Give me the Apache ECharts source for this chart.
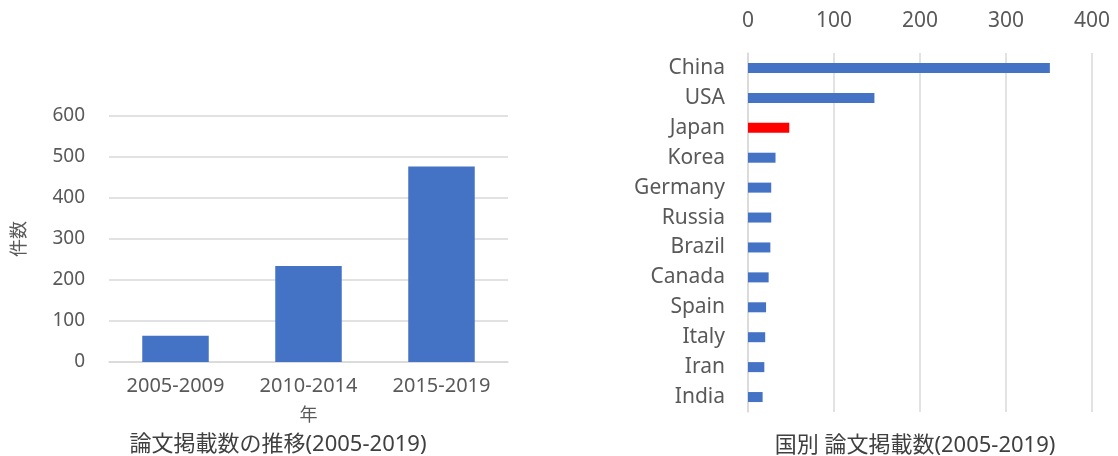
<!DOCTYPE html>
<html>
<head>
<meta charset="utf-8">
<script src="https://cdn.jsdelivr.net/npm/echarts@6/dist/echarts.min.js"></script>
<style>
  html, body { margin: 0; padding: 0; background: #fff; }
  #chart { width: 1118px; height: 456px; }
</style>
</head>
<body>
<div id="chart"></div>
<script>
// 期間別の論文数
const periods = ['2005-2009', '2010-2014', '2015-2019']
const periodCounts = [64, 234, 477]

// 国別の論文数
const countries = ['China', 'USA', 'Japan', 'Korea', 'Germany', 'Russia', 'Brazil', 'Canada', 'Spain', 'Italy', 'Iran', 'India']
const countryCounts = [351, 147, 48, 32, 27, 27, 26, 24, 21, 20, 19, 17]
const highlight = 'Japan'

const font = "'Noto Sans', 'Noto Sans CJK JP', sans-serif"
const textColor = '#595959'
const lineColor = '#d9d9d9'
const blue = '#4472c4'

const chart = echarts.init(document.getElementById('chart'))

const option = {
  animation: false,
  textStyle: { fontFamily: font },
  title: [
    {
      text: '論文掲載数の推移(2005-2019)',
      left: 273,
      top: 429,
      textAlign: 'center',
      textStyle: { fontSize: 22, fontWeight: 'normal', color: '#404040', fontFamily: font }
    },
    {
      text: '国別 論文掲載数(2005-2019)',
      left: 910,
      top: 430,
      textAlign: 'center',
      textStyle: { fontSize: 22, fontWeight: 'normal', color: '#404040', fontFamily: font }
    }
  ],
  grid: [
    { left: 109, right: 610, top: 116, bottom: 94 },
    { left: 748, right: 26, top: 53, bottom: 44 }
  ],
  xAxis: [
    {
      gridIndex: 0,
      type: 'category',
      data: periods,
      name: '年',
      nameLocation: 'middle',
      nameGap: 45,
      nameTextStyle: { color: textColor, fontSize: 18 },
      axisLine: { lineStyle: { color: lineColor, width: 1.5 } },
      axisTick: { show: false },
      axisLabel: { color: textColor, fontSize: 20, margin: 14 }
    },
    {
      gridIndex: 1,
      type: 'value',
      position: 'top',
      min: 0,
      max: 400,
      interval: 100,
      axisLine: { show: false },
      axisTick: { show: false },
      axisLabel: { color: textColor, fontSize: 21, margin: 21 },
      splitLine: { lineStyle: { color: lineColor, width: 1.5 } }
    }
  ],
  yAxis: [
    {
      gridIndex: 0,
      type: 'value',
      min: 0,
      max: 600,
      interval: 100,
      name: '件数',
      nameLocation: 'middle',
      nameGap: 80,
      nameRotate: 90,
      nameTextStyle: { color: textColor, fontSize: 18 },
      axisLine: { show: false },
      axisTick: { show: false },
      axisLabel: { color: textColor, fontSize: 19, margin: 24 },
      splitLine: { lineStyle: { color: lineColor, width: 1.5 } }
    },
    {
      gridIndex: 1,
      type: 'category',
      data: countries,
      inverse: true,
      axisLine: { lineStyle: { color: lineColor, width: 1.5 } },
      axisTick: { show: false },
      axisLabel: { color: textColor, fontSize: 21, margin: 23 }
    }
  ],
  series: [
    {
      type: 'bar',
      xAxisIndex: 0,
      yAxisIndex: 0,
      data: periodCounts,
      barWidth: '50%',
      itemStyle: { color: blue }
    },
    {
      type: 'bar',
      xAxisIndex: 1,
      yAxisIndex: 1,
      data: countryCounts.map((v, i) => ({
        value: v,
        itemStyle: { color: countries[i] === highlight ? '#ff0000' : blue }
      })),
      barWidth: 10
    }
  ]
}

chart.setOption(option)
</script>
</body>
</html>
